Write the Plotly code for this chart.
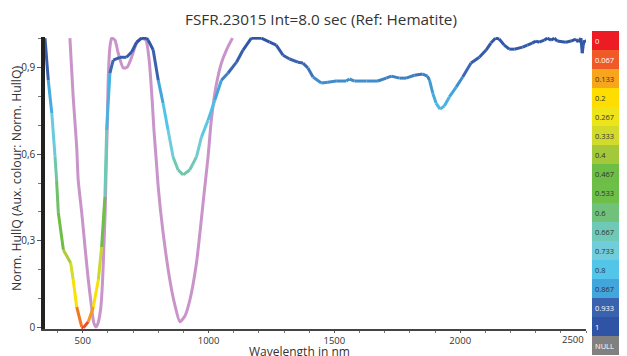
import plotly.graph_objects as go
from plotly.colors import sample_colorscale

# ---------------- data ----------------
sample_wl = [350, 363, 377, 390, 396, 403, 423, 452, 462, 476, 496, 502, 522, 542, 562, 575, 588, 595,
             608, 621, 648, 674, 694, 714, 734, 754, 760, 780, 800, 819, 839, 859, 879, 899, 925, 952,
             972, 998, 1025, 1051, 1077, 1111, 1137, 1170, 1210, 1243, 1269, 1296, 1322, 1355, 1375,
             1395, 1415, 1448, 1474, 1507, 1547, 1560, 1580, 1627, 1673, 1706, 1726, 1759, 1785, 1818,
             1851, 1870, 1878, 1891, 1904, 1920, 1937, 1957, 1984, 2010, 2043, 2076, 2103, 2122, 2140,
             2155, 2175, 2195, 2215, 2248, 2267, 2286, 2301, 2314, 2334, 2346, 2361, 2374, 2386, 2420,
             2440, 2460, 2469, 2480, 2485, 2489, 2493, 2500]
sample_hullq = [1.0, 0.855, 0.741, 0.59, 0.51, 0.397, 0.269, 0.224, 0.166, 0.072, 0.003, 0.0, 0.021,
                0.072, 0.166, 0.279, 0.452, 0.683, 0.879, 0.924, 0.934, 0.934, 0.952, 0.986, 1.0, 1.0,
                0.993, 0.959, 0.855, 0.776, 0.683, 0.59, 0.545, 0.528, 0.545, 0.59, 0.659, 0.717, 0.786,
                0.855, 0.879, 0.917, 0.959, 1.0, 1.0, 0.986, 0.976, 0.941, 0.928, 0.917, 0.914, 0.897,
                0.866, 0.845, 0.848, 0.852, 0.852, 0.859, 0.852, 0.852, 0.852, 0.862, 0.869, 0.862,
                0.862, 0.872, 0.876, 0.869, 0.855, 0.81, 0.776, 0.755, 0.766, 0.797, 0.831, 0.866,
                0.914, 0.934, 0.959, 0.983, 1.0, 0.997, 0.976, 0.962, 0.962, 0.969, 0.976, 0.983, 0.99,
                0.986, 0.993, 1.0, 0.993, 1.0, 0.99, 0.986, 0.99, 0.997, 0.986, 1.0, 0.948, 0.976,
                0.993, 0.986]

ref_wl = [449, 462, 476, 482, 496, 509, 522, 535, 544, 552, 561, 572, 579, 584, 589, 592, 597, 601,
          608, 615, 628, 641, 661, 677, 694, 714, 734, 751, 764, 775, 783, 793, 800, 818, 846, 866,
          886, 906, 926, 952, 969, 985, 998, 1011, 1029, 1051, 1071, 1095]
ref_hullq = [1.0, 0.797, 0.624, 0.51, 0.397, 0.279, 0.166, 0.072, 0.017, 0.003, 0.017, 0.072, 0.166,
             0.279, 0.397, 0.51, 0.683, 0.855, 0.969, 1.0, 0.993, 0.948, 0.897, 0.9, 0.934, 0.983, 1.0,
             0.993, 0.924, 0.797, 0.683, 0.569, 0.486, 0.338, 0.166, 0.079, 0.021, 0.041, 0.097, 0.224,
             0.355, 0.486, 0.59, 0.717, 0.831, 0.914, 0.959, 1.0]

legend_labels = ["0", "0.067", "0.133", "0.2", "0.267", "0.333", "0.4", "0.467", "0.533", "0.6",
                 "0.667", "0.733", "0.8", "0.867", "0.933", "1", "NULL"]
x_tick_vals = [500, 1000, 1500, 2000]
y_tick_vals = [0, 0.3, 0.6, 0.9]
y_tick_text = ["0", "0,3", "0,6", "0,9"]

# ---------------- style ----------------
palette = ["#ED1C24", "#F05A28", "#F7A51C", "#FFDD00", "#EDE41A", "#D2DA2C", "#A3C93A", "#6DBE45",
           "#6EBE4A", "#70C17A", "#6FC9B7", "#71CCDB", "#52C5E9", "#42A5DC", "#3A62AE", "#2F54A6"]
null_color = "#808080"
legend_colors = palette + [null_color]
legend_text_colors = ["white", "white"] + ["#333333"] * 12 + ["white", "white", "white"]
n = len(palette) - 1
colorscale = [[(i / n) ** (1 / 0.7), c] for i, c in enumerate(palette)]
FONT = "Open Sans"

fig = go.Figure()

# reference spectrum (hematite)
fig.add_trace(go.Scatter(x=ref_wl, y=ref_hullq, mode="lines",
                         line=dict(color="#C994C9", width=3, shape="spline", smoothing=0.6),
                         hoverinfo="skip", showlegend=False))

# sample spectrum coloured by its own value, grouped by colour level
levels = 60
groups = {}
for i in range(len(sample_wl) - 1):
    v = (sample_hullq[i] + sample_hullq[i + 1]) / 2
    k = int(round(v * (levels - 1)))
    gx, gy = groups.setdefault(k, ([], []))
    gx += [sample_wl[i], sample_wl[i + 1], None]
    gy += [sample_hullq[i], sample_hullq[i + 1], None]
for k, (gx, gy) in sorted(groups.items()):
    col = sample_colorscale(colorscale, [k / (levels - 1)])[0]
    fig.add_trace(go.Scatter(x=gx, y=gy, mode="lines", line=dict(color=col, width=3),
                             hoverinfo="skip", showlegend=False))

# discrete colour legend on the right
fig.add_trace(go.Bar(x=[1] * len(legend_labels), y=legend_labels, orientation="h",
                     marker=dict(color=legend_colors, line=dict(width=0)),
                     text=legend_labels, textposition="inside", insidetextanchor="start",
                     textangle=0, textfont=dict(family=FONT, size=7.5, color=legend_text_colors),
                     xaxis="x2", yaxis="y2", hoverinfo="skip", showlegend=False))

# page body has an 8px margin: place the figure so that window pixels match
OFF = 8
W, H = 627 - OFF, 356 - OFF
ml, mr, mt, mb = 45 - OFF, 0, 31 - OFF, 1
pw, ph = W - ml - mr, H - mt - mb

def px_x(p):
    return (p - OFF - ml) / pw

def px_y(p):
    return (H - mb - (p - OFF)) / ph

fig.update_layout(
    width=W, height=H,
    margin=dict(l=ml, r=mr, t=mt, b=mb, autoexpand=False),
    paper_bgcolor="white", plot_bgcolor="white",
    font=dict(family=FONT, color="#333333"),
    bargap=0,
    title=dict(text="FSFR.23015 Int=8.0 sec (Ref: Hematite)", x=(321 - OFF) / W, xref="container",
               xanchor="center", y=1 - (20 - OFF) / H, yref="container", yanchor="middle",
               font=dict(size=15.3, color="#333333")),
    xaxis=dict(domain=[0, px_x(586)], range=[350, 2500], showgrid=False, zeroline=False,
               showline=True, linecolor="#444444", linewidth=1.5,
               tickvals=x_tick_vals, ticks="outside", ticklen=2, tickcolor="#555555",
               tickfont=dict(size=9.5, color="#333333"),
               minor=dict(dtick=100, tick0=0, ticks="outside", ticklen=2, tickcolor="#777777")),
    yaxis=dict(domain=[px_y(329), px_y(37)], range=[-0.004, 1.004], showgrid=False, zeroline=False,
               showline=True, linecolor="#222222", linewidth=3.5,
               tickvals=y_tick_vals, ticktext=y_tick_text, ticks="outside", ticklen=4, tickcolor="#555555",
               tickfont=dict(size=10, color="#333333"),
               minor=dict(dtick=0.1, tick0=0, ticks="outside", ticklen=3, tickcolor="#777777")),
    xaxis2=dict(domain=[px_x(592), 1], range=[0, 1], visible=False, fixedrange=True),
    yaxis2=dict(domain=[0, 1], autorange="reversed", visible=False, type="category", anchor="x2"),
    annotations=[
        dict(text="2500", x=2500, xref="x", y=px_y(331), yref="paper", xanchor="right", yanchor="top",
             showarrow=False, font=dict(size=9.5, color="#333333")),
        dict(text="Wavelength in nm", x=px_x(299), xref="paper", y=px_y(351), yref="paper",
             xanchor="center", yanchor="middle", showarrow=False, font=dict(size=12, color="#333333")),
        dict(text="Norm. HullQ (Aux. colour: Norm. HullQ)", x=px_x(16), xref="paper", y=px_y(178),
             yref="paper", xanchor="center", yanchor="middle", textangle=-90, showarrow=False,
             font=dict(size=12.3, color="#333333")),
    ],
)

fig.write_html("out.html")
